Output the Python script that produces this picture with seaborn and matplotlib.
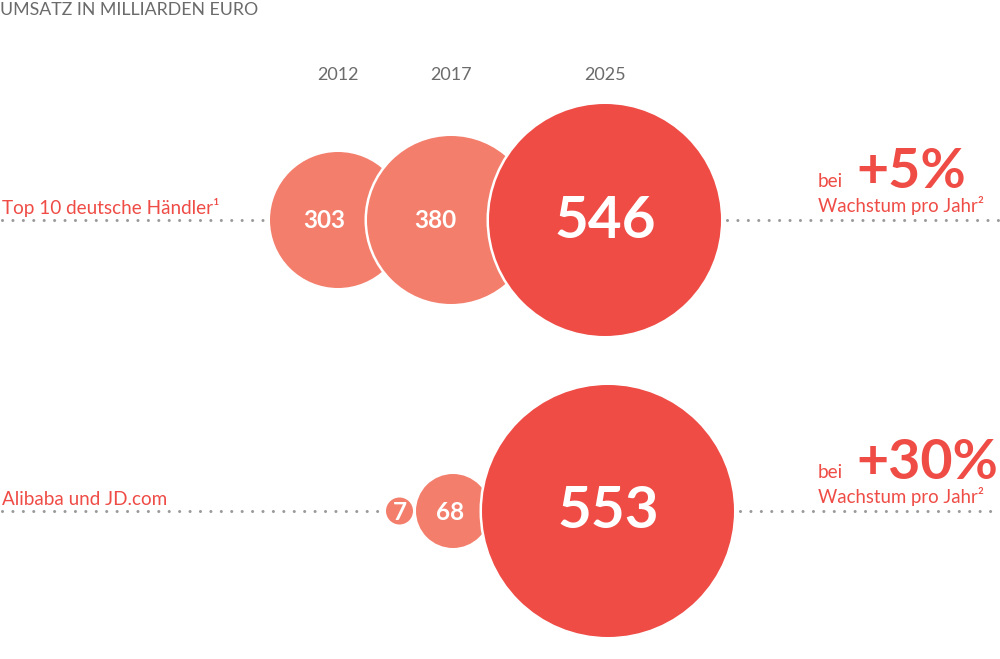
import numpy as np
import pandas as pd
import matplotlib
matplotlib.use('Agg')
import matplotlib.pyplot as plt
import seaborn as sns

# Daten
jahre = ['2012', '2017', '2025']
gruppen = ['Top 10 deutsche Händler¹', 'Alibaba und JD.com']
umsatz_top10 = [303, 380, 546]
umsatz_alibaba_jd = [7, 68, 553]
wachstum = ['+5%', '+30%']

# Layout (Pixel)
zeilen_y = [220, 511]
radien = [[68, 84, 116], [13.5, 37, 126]]
ueberlappung = [[39, 46], [-3, 8]]
anker_x = [605, 608]
rand = 2.5

rot = '#EF4C46'
lachs = '#F47E6C'
grau = '#6b6b6b'
punkt_grau = '#9a9a9a'

sns.set_theme(style='white')
plt.rcParams['font.family'] = ['Lato', 'DejaVu Sans']

fig = plt.figure(figsize=(10, 6.59), dpi=100)
ax = fig.add_axes([0, 0, 1, 1])

# Kreise anordnen: der groesste sitzt unter seinem Jahr, die anderen links davon
zeilen = []
for i, werte in enumerate([umsatz_top10, umsatz_alibaba_jd]):
    r = radien[i]
    cx = [0.0] * len(werte)
    cx[-1] = anker_x[i]
    for k in range(len(werte) - 2, -1, -1):
        cx[k] = cx[k + 1] - (r[k] + r[k + 1]) + ueberlappung[i][k]
    for k, w in enumerate(werte):
        zeilen.append({'gruppe': i, 'jahr': jahre[k], 'wert': w, 'cx': cx[k],
                       'cy': zeilen_y[i], 'r': r[k],
                       'ton': 'gross' if k == len(werte) - 1 else 'klein'})
df = pd.DataFrame(zeilen)

# Markergroesse in pt^2 (1 px = 0.72 pt)
df['s'] = (2 * (df['r'] + rand / 2) * 0.72) ** 2

# punktierte Linien
for i in range(2):
    d = df[df['gruppe'] == i]
    links = (d['cx'] - d['r']).min() - 6
    rechts = (d['cx'] + d['r']).max() + 6
    y = zeilen_y[i]
    for x0, x1 in [(2, links), (rechts, 1000)]:
        ax.plot([x0, x1], [y, y], color=punkt_grau, lw=2.2,
                linestyle=(0, (0.01, 3.4)), dash_capstyle='round', zorder=1)

sns.scatterplot(data=df, x='cx', y='cy', hue='ton',
                palette={'klein': lachs, 'gross': rot}, s=df['s'],
                edgecolor='white', linewidth=rand * 0.72, legend=False,
                ax=ax, zorder=2)
ax.set_xlim(0, 1000)
ax.set_ylim(659, 0)
ax.axis('off')

# Werte in den Kreisen, im sichtbaren Teil zentriert
for i in range(2):
    d = df[df['gruppe'] == i].reset_index(drop=True)
    for k, row in d.iterrows():
        links = row['cx'] - row['r']
        rechts = row['cx'] + row['r']
        if k < len(d) - 1:
            rechts = min(rechts, d.loc[k + 1, 'cx'] - d.loc[k + 1, 'r'])
        gross = row['ton'] == 'gross'
        x = row['cx'] if gross else 0.7 * (links + rechts) / 2 + 0.3 * row['cx']
        ax.text(x, row['cy'] + 1, str(row['wert']), color='white',
                ha='center', va='center',
                fontsize=42 if gross else 17.5,
                fontweight='bold', zorder=3)

# Jahre
for k, j in enumerate(jahre):
    ax.text(df.loc[k, 'cx'], 75, j, color=grau, ha='center', va='center', fontsize=13)

# Titel
ax.text(0, 10, 'UMSATZ IN MILLIARDEN EURO', color=grau, ha='left', va='center',
        fontsize=12.8)

# Gruppennamen und Wachstum
for i in range(2):
    y = zeilen_y[i]
    ax.text(2, y - 6, gruppen[i], color=rot, ha='left', va='baseline', fontsize=13.6)
    ax.text(818, y - 33, 'bei', color=rot, ha='left', va='baseline', fontsize=13.6)
    ax.text(856, y - 32, wachstum[i], color=rot, ha='left', va='baseline',
            fontsize=40, fontweight='bold')
    ax.text(818, y - 8, 'Wachstum pro Jahr²', color=rot, ha='left', va='baseline',
            fontsize=13.4)

fig.savefig('out.png', dpi=100)
